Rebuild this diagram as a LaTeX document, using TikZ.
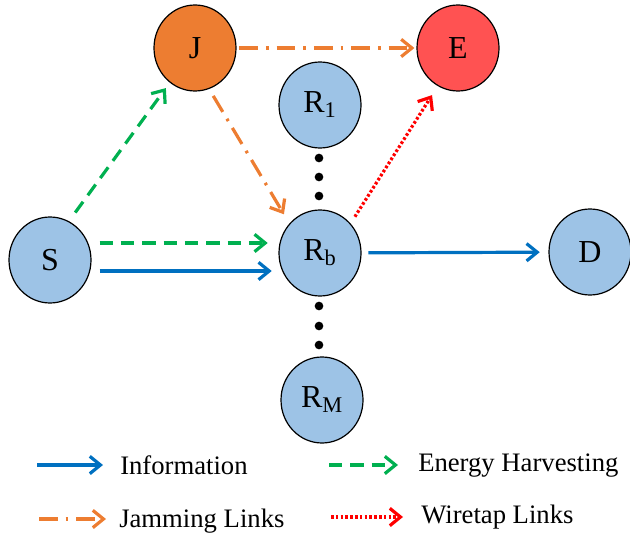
\documentclass[tikz,border=0pt]{standalone}
\usepackage{fontspec}
\setmainfont{Liberation Serif}
\usetikzlibrary{arrows.meta,shapes.geometric}
\definecolor{relayblue}{HTML}{9DC3E6}
\definecolor{jamorange}{HTML}{ED7D31}
\definecolor{evered}{HTML}{FF5252}
\definecolor{infoblue}{HTML}{0070C0}
\definecolor{ehgreen}{HTML}{00B050}
\definecolor{tapred}{HTML}{FF0000}

\begin{document}
\begin{tikzpicture}[x=0.75pt,y=-0.75pt,
  station/.style={ellipse,draw=black,line width=0.9pt,fill=relayblue,minimum width=61.5pt,minimum height=64.5pt,inner sep=0pt,font=\fontsize{24}{28}\selectfont},
  link/.style={line width=2.4pt,-{Straight Barb[length=8pt,width=13pt,line width=2.4pt]}},
  info/.style={link,draw=infoblue},
  harvest/.style={link,draw=ehgreen,dash pattern=on 10pt off 6pt},
  jam/.style={link,draw=jamorange,dash pattern=on 14pt off 6pt on 2pt off 6pt},
  tap/.style={link,draw=tapred,dash pattern=on 2pt off 1.6pt},
  relaydot/.style={circle,fill=black,minimum size=6.5pt,inner sep=0pt},
  legendtext/.style={anchor=west,inner sep=0pt,font=\fontsize{20}{24}\selectfont}]
\useasboundingbox (0,0) rectangle (630,534);

\node[station] (S) at (50,260) {S};
\node[station,fill=jamorange] (J) at (195,48) {J};
\node[station,fill=evered] (E) at (458,48) {E};
\node[station] (R1) at (320,105) {R\textsubscript{1}};
\node[station] (Rb) at (320,253) {R\textsubscript{b}};
\node[station] (RM) at (322,400) {R\textsubscript{M}};
\node[station] (D) at (590,252) {D};

\node[relaydot] (d1) at (319,158) {};
\node[relaydot] (d2) at (319,177) {};
\node[relaydot] (d3) at (319,196) {};
\node[relaydot] (d4) at (319,306) {};
\node[relaydot] (d5) at (319,326) {};
\node[relaydot] (d6) at (319,345) {};

\draw[jam,shorten <=2pt,shorten >=1.5pt] (J) -- (E);
\draw[harvest,shorten <=8pt,shorten >=5pt] (S.64) -- (J.234);
\draw[jam,shorten <=6pt,shorten >=8pt] (J.289) -- (Rb.136);
\draw[harvest,shorten <=6pt,shorten >=8pt] ([yshift=12.75pt]S.east) -- ([yshift=7.5pt]Rb.west);
\draw[info,shorten <=6pt,shorten >=5pt] ([yshift=-8.25pt]S.east) -- ([yshift=-13.5pt]Rb.west);
\draw[tap,shorten <=6pt,shorten >=8pt] (Rb.44) -- (E.242);
\draw[info,shorten <=5pt,shorten >=6.5pt] (Rb) -- (D);

% legend
\coordinate (infoA) at (37,465);
\coordinate (infoB) at (103,465);
\draw[info] (infoA) -- (infoB);
\node[legendtext] (infoT) at (120,465) {Information};
\coordinate (ehA) at (329,465);
\coordinate (ehB) at (398,465);
\draw[harvest] (ehA) -- (ehB);
\node[legendtext] (ehT) at (418,466) {Energy Harvesting};
\coordinate (jamA) at (39,519);
\coordinate (jamB) at (106,519);
\draw[jam] (jamA) -- (jamB);
\node[legendtext] (jamT) at (119,521) {Jamming Links};
\coordinate (tapA) at (331,517);
\coordinate (tapB) at (403,517);
\draw[tap] (tapA) -- (tapB);
\node[legendtext] (tapT) at (421,517) {Wiretap Links};

\end{tikzpicture}
\end{document}
